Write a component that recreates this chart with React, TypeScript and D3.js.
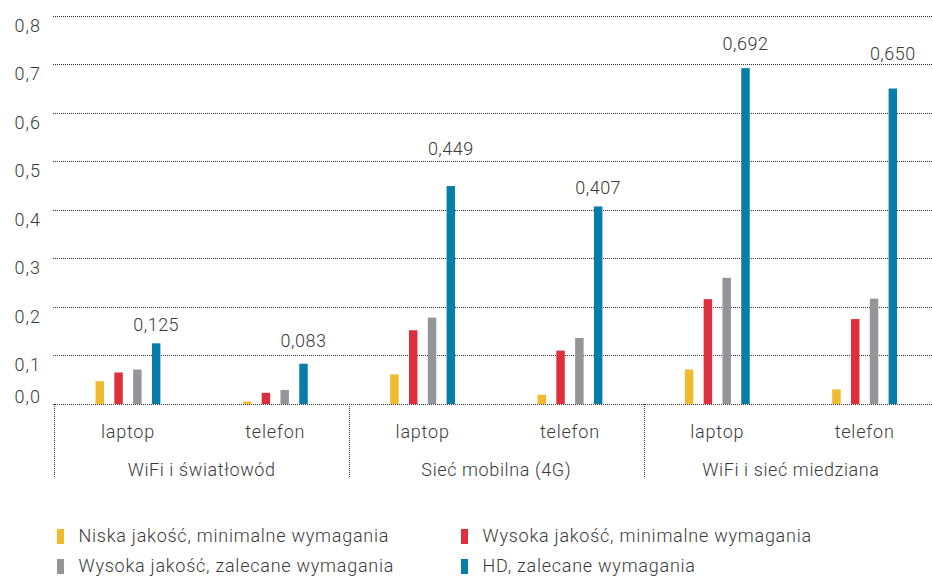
import React from "react";
import * as d3 from "d3";

const groups = ["WiFi i światłowód", "Sieć mobilna (4G)", "WiFi i sieć miedziana"];
const devices = ["laptop", "telefon"];
const seriesNames = [
  "Niska jakość, minimalne wymagania",
  "Wysoka jakość, minimalne wymagania",
  "Wysoka jakość, zalecane wymagania",
  "HD, zalecane wymagania",
];
const seriesColors = ["#F1BB2F", "#E02F3C", "#949599", "#077DAA"];
// values per group/device in order: g1 laptop, g1 telefon, g2 laptop, g2 telefon, g3 laptop, g3 telefon
const niska = [0.047, 0.005, 0.061, 0.019, 0.071, 0.03];
const wysokaMin = [0.065, 0.023, 0.152, 0.11, 0.216, 0.175];
const wysokaZal = [0.071, 0.029, 0.178, 0.136, 0.26, 0.217];
const hd = [0.125, 0.083, 0.449, 0.407, 0.692, 0.65];
const seriesValues = [niska, wysokaMin, wysokaZal, hd];
const yTicks = [0, 0.1, 0.2, 0.3, 0.4, 0.5, 0.6, 0.7, 0.8];
// label gap (px) above HD bars, as in the reference
const labelGaps = [12.4, 17, 30.7, 12, 18.3, 29];

const W = 932;
const H = 577;
const FONT = "Roboto, 'Open Sans', sans-serif";
const TEXT = "#3a3a3a";

export default function App() {
  const y = d3.scaleLinear().domain([0, 0.8]).range([404, 15.7]);
  const xGroup = d3.scaleBand<string>().domain(groups).range([54.3, 938.3]).padding(0);
  const xDev = d3.scaleBand<string>().domain(devices).range([0, xGroup.bandwidth()]).padding(0);
  const step = 18.8;
  const xSer = d3
    .scaleBand<string>()
    .domain(seriesNames)
    .range([-2 * step, 2 * step])
    .paddingInner(0.55)
    .paddingOuter(0.275);
  const fmt = (v: number) => d3.format(".1f")(v).replace(".", ",");
  const fmt3 = (v: number) => d3.format(".3f")(v).replace(".", ",");

  const cells: { g: string; d: string; i: number }[] = [];
  groups.forEach((g, gi) =>
    devices.forEach((d, di) => cells.push({ g, d, i: gi * devices.length + di }))
  );
  const devCenter = (g: string, d: string) =>
    (xGroup(g) as number) + (xDev(d) as number) + xDev.bandwidth() / 2;

  const gridRight = W;
  const sepX = [...groups.map((g) => xGroup(g) as number)];

  return (
    <svg
      width={W}
      height={H}
      style={{ position: "absolute", left: 0, top: 0, background: "#fff" }}
      fontFamily={FONT}
    >
      {/* gridlines */}
      {yTicks.map((t) => (
        <line
          key={"g" + t}
          x1={53}
          x2={gridRight}
          y1={Math.round(y(t)) + 0.5}
          y2={Math.round(y(t)) + 0.5}
          stroke="#333"
          strokeWidth={1}
          strokeDasharray="1 1"
        />
      ))}
      {/* y tick labels */}
      {yTicks.map((t) => (
        <text
          key={"yl" + t}
          x={41}
          y={t === 0 ? y(t) - 8 : y(t) + 9.5}
          textAnchor="end"
          dominantBaseline="central"
          fontSize={18}
          fontWeight={300}
          letterSpacing={1}
          fill={TEXT}
        >
          {fmt(t)}
        </text>
      ))}
      {/* group separators */}
      {sepX.map((x, i) => (
        <line
          key={"s" + i}
          x1={Math.round(x) + 0.5}
          x2={Math.round(x) + 0.5}
          y1={404}
          y2={478}
          stroke="#333"
          strokeWidth={1}
          strokeDasharray="1 1"
        />
      ))}
      {/* bars */}
      {seriesNames.map((s, si) =>
        cells.map((c) => {
          const v = seriesValues[si][c.i];
          const x = devCenter(c.g, c.d) + (xSer(s) as number);
          return (
            <rect
              key={s + c.i}
              x={x}
              y={y(v)}
              width={xSer.bandwidth()}
              height={y(0) - y(v)}
              fill={seriesColors[si]}
            />
          );
        })
      )}
      {/* value labels on HD */}
      {cells.map((c) => {
        const s = seriesNames[3];
        const v = hd[c.i];
        const x = devCenter(c.g, c.d) + (xSer(s) as number) + xSer.bandwidth() / 2;
        return (
          <text
            key={"v" + c.i}
            x={x}
            y={y(v) - labelGaps[c.i]}
            textAnchor="middle"
            fontSize={18}
            fontWeight={300}
            letterSpacing={0.5}
            fill={TEXT}
          >
            {fmt3(v)}
          </text>
        );
      })}
      {/* device labels */}
      {cells.map((c) => (
        <text
          key={"d" + c.i}
          x={devCenter(c.g, c.d)}
          y={437.5}
          textAnchor="middle"
          fontSize={18}
          fontWeight={300}
          letterSpacing={0.8}
          fill={TEXT}
        >
          {c.d}
        </text>
      ))}
      {/* group labels */}
      {groups.map((g) => (
        <text
          key={"gl" + g}
          x={(xGroup(g) as number) + xGroup.bandwidth() / 2}
          y={476}
          textAnchor="middle"
          fontSize={18}
          fontWeight={300}
          letterSpacing={0.6}
          fill={TEXT}
        >
          {g}
        </text>
      ))}
      {/* legend */}
      {seriesNames.map((s, i) => {
        const col = i % 2;
        const row = Math.floor(i / 2);
        const mx = col === 0 ? 57 : 461;
        const tx = col === 0 ? 78.5 : 482.5;
        const base = row === 0 ? 541.7 : 571.7;
        return (
          <g key={"lg" + s}>
            <rect x={mx} y={base - 12.7} width={7} height={15} fill={seriesColors[i]} />
            <text
              x={tx}
              y={base}
              fontSize={18}
              fontWeight={300}
              letterSpacing={0.75}
              fill={TEXT}
            >
              {s}
            </text>
          </g>
        );
      })}
    </svg>
  );
}
